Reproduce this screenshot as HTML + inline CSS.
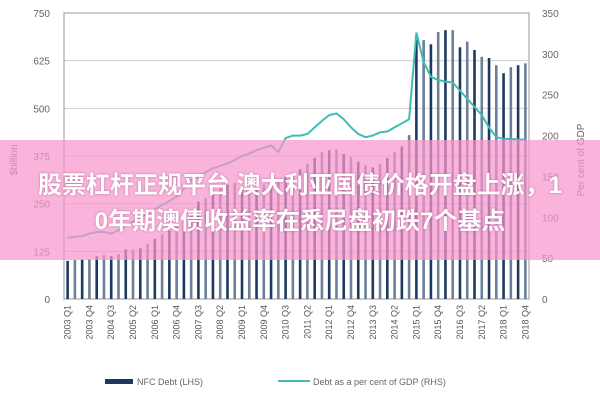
<!DOCTYPE html>
<html><head><meta charset="utf-8"><style>
body{margin:0;background:#fff;width:600px;height:400px;overflow:hidden;font-family:"Liberation Sans","Noto Sans CJK SC",sans-serif}
#banner{position:absolute;left:0;top:140px;width:600px;height:120px;background:rgba(248,150,205,0.72)}
.bt{position:absolute;left:0;width:600px;text-align:center;color:#fff;font-weight:bold;font-size:24px;line-height:28px;white-space:nowrap;text-shadow:0 0 2px rgba(120,40,90,0.5)}
</style></head><body>
<svg id="chart" width="600" height="400" style="position:absolute;left:0;top:0" font-family="Liberation Sans, sans-serif"></svg>
<div id="banner">
<div class="bt" style="top:32px">股票杠杆正规平台 澳大利亚国债价格开盘上涨，1</div>
<div class="bt" style="top:68px">0年期澳债收益率在悉尼盘初跌7个基点</div>
</div>
<script>
const years=["2003","2004","2005","2006","2007","2008","2009","2010","2011","2012","2013","2014","2015","2016","2017","2018"];
const debtLHS=[100,103,104,105,112,115,112,118,130,130,133,145,158,170,180,190,215,230,255,265,280,290,300,305,295,285,290,300,300,310,320,330,340,355,370,385,390,392,380,372,360,350,345,355,370,385,400,430,680,679,668,700,705,705,660,675,653,635,632,613,592,608,613,618];
const pctGDP=[75,76,77,80,82,82,80,84,90,95,100,105,110,115,120,125,135,145,150,155,160,163,166,170,175,178,182,185,188,180,197,200,200,202,210,218,225,227,220,210,202,198,200,204,205,210,215,220,326,290,272,268,266,265,255,245,235,225,210,198,196,196,195,195];
const leftTicks=[0,125,250,375,500,625,750];
const rightTicks=[0,50,100,150,200,250,300,350];
const svg=document.getElementById('chart');
const NS='http://www.w3.org/2000/svg';
const X0=64,X1=529,Y0=299,Y1=13;
const n=debtLHS.length,step=(X1-X0)/n;
const xAt=i=>X0+step*(i+0.5);
const yL=v=>Y0-(v/750)*(Y0-Y1);
const yR=v=>Y0-(v/350)*(Y0-Y1);
function mk(t,a){const e=document.createElementNS(NS,t);for(const k in a)e.setAttribute(k,a[k]);svg.appendChild(e);return e;}
leftTicks.forEach(v=>{
 const g=mk('line',{x1:X0,x2:X1,y1:yL(v),y2:yL(v),stroke:'#d0d0d0','stroke-width':1});
 
 
 const t=mk('text',{x:50,y:yL(v)+4,'text-anchor':'end','font-size':10,fill:'#666'});
 t.textContent=v;
 
 
});
rightTicks.forEach(v=>{
 const t=mk('text',{x:542,y:yR(v)+4,'font-size':10,fill:'#666'});
 t.textContent=v;
 
 
});
const fr=mk('rect',{x:X0,y:Y1,width:X1-X0,height:Y0-Y1,fill:'none',stroke:'#999','stroke-width':1});


debtLHS.forEach((v,i)=>{
 const b=mk('rect',{x:xAt(i)-1.3,y:yL(v),width:2.6,height:Y0-yL(v),fill:i%2?'#6b7f98':'#1d3a5e'});
 
 
});
const p=mk('polyline',{points:pctGDP.map((v,i)=>xAt(i)+','+yR(v)).join(' '),fill:'none',stroke:'#3fbcb4','stroke-width':2});


for(let i=0;i<n;i+=3){
 const q=(i%4)+1,lbl=years[Math.floor(i/4)]+' Q'+q;
 const t=mk('text',{x:0,y:0,'font-size':9,fill:'#555','text-anchor':'end',transform:`translate(${xAt(i)+3},305) rotate(-90)`});
 t.textContent=lbl;
 
 
}
const yt=mk('text',{x:0,y:0,'font-size':10,fill:'#666','text-anchor':'middle',transform:'translate(17,160) rotate(-90)'});
yt.textContent='$billion';


const yt2=mk('text',{x:0,y:0,'font-size':10,fill:'#666','text-anchor':'middle',transform:'translate(584,160) rotate(-90)'});
yt2.textContent='Per cent of GDP';


const l1=mk('rect',{x:105,y:379,width:28,height:5,fill:'#1d3a5e'});


const lt1=mk('text',{x:137,y:385,'font-size':9,fill:'#666'});
lt1.textContent='NFC Debt (LHS)';


const l2=mk('line',{x1:278,x2:310,y1:381,y2:381,stroke:'#3fbcb4','stroke-width':2});


const lt2=mk('text',{x:313,y:385,'font-size':9,fill:'#666'});
lt2.textContent='Debt as a per cent of GDP (RHS)';


</script>
</body></html>
